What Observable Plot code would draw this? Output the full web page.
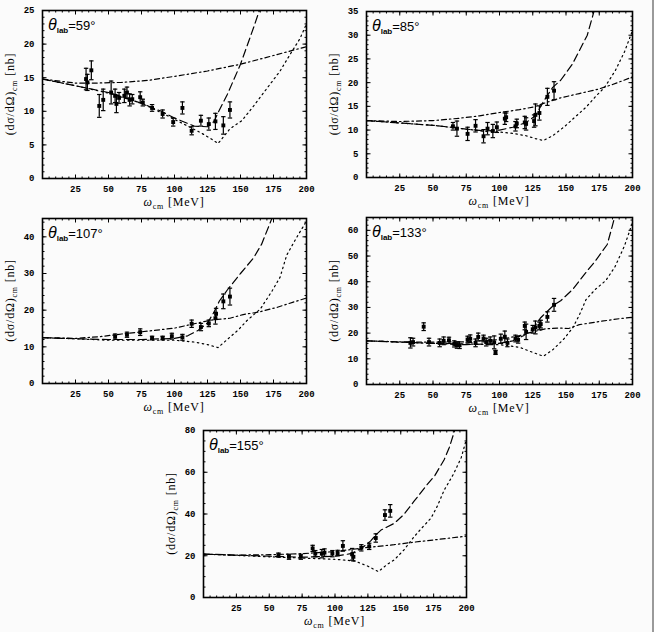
<!DOCTYPE html>
<html><head><meta charset="utf-8">
<script src="https://cdn.jsdelivr.net/npm/d3@7"></script>
<script src="https://cdn.jsdelivr.net/npm/@observablehq/plot@0.6"></script>
<style>
body{margin:0;background:#fbfbfb}
#root{position:relative;width:654px;height:632px;background:#fbfbfb;overflow:hidden}
#edge{position:absolute;right:0;top:0;width:2px;height:632px;background:#9a9a9a}
.panel{position:absolute}
</style></head><body><div id="root"><div id="edge"></div></div>
<script>
const xTicks = [25,50,75,100,125,150,175,200];
const angles = [59,85,107,133,155];
const yMax = [25,35,45,65,80];
const yStep = [5,5,10,10,20];
const yMinorStep = [1,1,2,2,5];

// measured points [omega, dsigma/dOmega, error]
const pts59 = [[33,14.8,1.6],[34,14.3,1.2],[37,16.1,1.4],[43,10.8,1.7],[46,11.7,1.6],[52,12.8,1.7],[55,12.3,1.0],[56,11.1,1.3],[58,12.0,0.8],[62,12.3,1.0],[64,12.8,0.8],[66,11.7,0.9],[68,11.8,0.7],[74,12.1,0.8],[76,11.3,0.5],[83,10.5,0.5],[91,9.6,0.6],[99,8.4,0.6],[106,10.5,0.9],[113,7.1,0.6],[120,8.6,0.8],[126,8.1,0.9],[131,8.5,1.2],[137,7.9,1.3],[142,10.2,1.2]];
const pts85 = [[65,10.8,0.8],[68,10.3,1.6],[76,9.2,1.4],[82,10.9,1.3],[88,8.7,1.4],[91,10.3,1.3],[95,9.8,1.4],[98,10.6,1.1],[104,12.4,1.2],[105,12.7,0.9],[112,10.8,1.0],[113,11.4,0.9],[119,11.6,1.3],[120,11.3,1.3],[126,11.9,1.3],[127,13.2,2.3],[130,13.6,1.5],[136,17.0,1.8],[141,18.3,1.9]];
const pts107 = [[55,12.8,0.7],[64,13.3,0.7],[74,14.0,0.9],[83,12.4,0.5],[91,12.4,0.5],[98,12.9,0.8],[106,12.6,0.8],[113,16.3,1.0],[120,15.4,1.0],[126,16.4,0.9],[131,17.8,1.6],[131.5,19.0,1.5],[137,22.4,2.0],[142,23.7,2.3]];
const pts133 = [[33,16.2,2.0],[35,16.5,1.5],[43,22.5,1.5],[47,16.5,1.5],[55,16.2,1.5],[58,17.0,1.5],[62,17.2,1.2],[66,15.8,1.2],[68,15.3,1.2],[70,15.3,1.3],[76,17.5,1.3],[78,17.8,1.5],[82,16.2,1.5],[84,18.5,1.5],[88,17.9,1.3],[90,16.5,1.5],[93,17.0,1.5],[96,16.4,2.5],[97,12.5,0.8],[101,17.8,1.8],[104,18.6,2.2],[106,16.2,1.5],[112,17.9,1.3],[114,17.4,1.3],[119,22.8,1.5],[120,20.5,3.0],[125,21.5,1.5],[127,22.2,2.5],[130,22.8,1.5],[131,23.5,1.5],[136,26.3,2.0],[141,31.0,2.5]];
const pts155 = [[57,20.3,1.0],[65,19.5,1.2],[74,19.5,1.2],[83,23.5,1.5],[85,21.0,1.5],[90,21.0,2.0],[92,21.5,1.8],[98,21.0,1.5],[102,21.3,1.3],[106,24.7,2.5],[113,20.7,2.8],[114,19.5,2.0],[120,23.8,1.5],[126,24.5,1.5],[131,28.5,2.0],[138,39.5,2.5],[142,41.5,3.0]];

// theory curves [omega, value]
const dash59 = [[0,14.8],[25,13.8],[50,12.8],[75,11.2],[90,10],[100,9.0],[110,8.2],[115,7.8],[125,7.7],[130,8.5],[133,9.8],[140,12.5],[150,17],[160,22.5],[166,26]];
const dashdot59 = [[0,14.8],[25,14.2],[40,14.2],[60,14.3],[80,14.6],[100,15.2],[125,16],[150,17],[175,18.3],[190,19.1],[200,19.6]];
const dot59 = [[0,14.8],[25,13.8],[50,12.7],[75,11.2],[90,9.8],[100,8.8],[110,7.8],[120,6.8],[127,6.0],[133,5.2],[142,7.4],[151,8.6],[160,10.8],[170,13.4],[180,16],[188,18.6],[195,20.8],[200,23]];

const dash85 = [[0,12],[25,11.5],[50,11],[60,10.7],[75,10.2],[90,9.8],[100,10],[110,10.6],[120,11.6],[127,13],[133,16],[140,19],[146,20.5],[155,24],[166,30],[171,35],[175,38]];
const dashdot85 = [[0,12],[25,11.8],[50,12],[70,12.5],[85,13],[100,13.7],[115,14.3],[126,14.9],[135,15.8],[146,16.8],[160,17.7],[174,18.6],[185,19.6],[200,21.2]];
const dot85 = [[0,12],[25,11.5],[50,11],[75,10.2],[90,9.7],[100,9.6],[110,9.3],[120,8.8],[127,8.2],[133,7.8],[140,8.8],[150,11],[157,12.8],[165,14.8],[172,17],[179,19],[187,22.5],[194,26.5],[200,31]];

const dash107 = [[0,12.5],[25,12.2],[50,12],[75,12],[100,12.3],[110,13],[118,14.5],[125,16.5],[130,19.5],[134,22.5],[140,25.5],[150,30],[160,34.3],[166,38],[173,44.3],[175,46]];
const dashdot107 = [[0,12.5],[25,12.3],[44,12.8],[60,13.5],[80,14.3],[100,15.1],[110,15.9],[120,16.7],[130,17.4],[142,17.8],[152,18.8],[164,19.5],[178,20.8],[190,22.2],[200,23.3]];
const dot107 = [[0,12.5],[25,12.2],[50,11.8],[75,11.8],[100,11.8],[115,11.3],[125,10.6],[133,9.8],[139,11.7],[148,14.5],[155,17.2],[165,20.3],[174,25.3],[180,29],[185,35],[192,39.5],[200,44.3]];

const dash133 = [[0,17],[25,16.5],[50,16],[75,15.5],[100,16],[110,17],[118,19],[125,21.5],[131,26],[137,29],[141,31],[146,32.6],[155,37],[164,43],[172,48],[181,54.5],[185,62],[187,66]];
const dashdot133 = [[0,17],[25,16.6],[50,16.5],[75,16.6],[100,17.5],[115,19],[125,20.5],[135,21.7],[145,22],[152,21.8],[160,23.3],[175,24.5],[190,25.6],[200,26.2]];
const dot133 = [[0,17],[50,16],[100,15.5],[115,14.5],[125,12.5],[133,11],[140,13.5],[148,17.5],[155,22],[160,27],[165,33],[172,37],[180,40.5],[187,46],[194,54],[200,63]];

const dash155 = [[0,20.8],[25,20.3],[50,19.8],[75,19.3],[100,19.8],[112,21],[120,23.5],[127,27],[131,30],[135,32.3],[145,35.5],[152,39.5],[160,46],[170,54],[176,58.5],[183,66],[187,72],[190,78],[192,82]];
const dashdot155 = [[0,20.8],[25,20.3],[50,20.5],[75,21],[100,22],[125,24],[145,25.3],[160,26.5],[170,27.2],[185,28.3],[200,29.4]];
const dot155 = [[0,20.8],[50,19.5],[100,18.3],[115,17.5],[125,15],[133,12.4],[140,16],[145,18],[152,22.5],[160,29],[167,34],[173,38],[178,44],[183,51.4],[190,59],[196,67],[200,76]];

const allPts = [pts59, pts85, pts107, pts133, pts155];
const allDash = [dash59, dash85, dash107, dash133, dash155];
const allDashDot = [dashdot59, dashdot85, dashdot107, dashdot133, dashdot155];
const allDot = [dot59, dot85, dot107, dot133, dot155];

// layout: [left, top, width, height, marginTop, marginRight, marginBottom, marginLeft]
const layout = [
  [0, 0, 327, 210, 10, 21, 32, 42],
  [327, 0, 327, 210, 11, 22, 33, 39],
  [0, 210, 327, 210, 8, 21, 37, 42],
  [327, 210, 327, 210, 7, 22, 36, 39],
  [160, 420, 327, 212, 10, 21, 35, 43]
];

const capSymbol = {draw(ctx, size){ const w = Math.sqrt(size / Math.PI); ctx.moveTo(-w, 0); ctx.lineTo(w, 0); }};
const tickSym = (dx, dy) => ({draw(ctx, size){ const l = Math.sqrt(size / Math.PI); ctx.moveTo(0, 0); ctx.lineTo(dx * l, dy * l); }});
const tickUp = tickSym(0, -1), tickDown = tickSym(0, 1), tickRight = tickSym(1, 0), tickLeft = tickSym(-1, 0);

const root = document.getElementById("root");
const tickFont = "'Liberation Mono', 'DejaVu Sans Mono', monospace";

angles.forEach((angle, i) => {
  const [left, top, width, height, mt, mr, mb, ml] = layout[i];
  const ymax = yMax[i];
  const yTicks = d3.range(0, ymax + 0.001, yStep[i]);
  const yMinor = d3.range(0, ymax + 0.001, yMinorStep[i]);
  const xMinor = d3.range(0, 200.001, 5);
  const pts = allPts[i];
  const lineOpts = {x: d => d[0], y: d => d[1], stroke: "black", strokeWidth: 1.2, clip: true};
  const tk = (data, ch, anchor, sym, r) => Plot.dot(data, {[ch]: d => d, frameAnchor: anchor, symbol: sym, r, stroke: "black", strokeWidth: 1});
  const plot = Plot.plot({
    width, height, marginTop: mt, marginRight: mr, marginBottom: mb, marginLeft: ml,
    x: {domain: [0, 200]},
    y: {domain: [0, ymax]},
    style: {background: "transparent", fontFamily: tickFont, fontSize: "9px", color: "black"},
    marks: [
      Plot.axisX(xTicks, {anchor: "bottom", tickSize: 0, tickPadding: 7, label: null, fontWeight: "bold"}),
      Plot.axisY(yTicks, {anchor: "left", tickSize: 0, tickPadding: 8, label: null, fontWeight: "bold"}),
      tk(xTicks, "x", "bottom", tickUp, 4),
      tk(xMinor, "x", "bottom", tickUp, 2),
      tk(xTicks, "x", "top", tickDown, 4),
      tk(xMinor, "x", "top", tickDown, 2),
      tk(yTicks, "y", "left", tickRight, 4),
      tk(yMinor, "y", "left", tickRight, 2),
      tk(yTicks, "y", "right", tickLeft, 4),
      tk(yMinor, "y", "right", tickLeft, 2),
      Plot.line(allDashDot[i], {...lineOpts, strokeDasharray: "5,3,1.5,3"}),
      Plot.line(allDash[i], {...lineOpts, strokeDasharray: "8,4"}),
      Plot.line(allDot[i], {...lineOpts, strokeDasharray: "1.5,3.5"}),
      Plot.ruleX(pts, {x: d => d[0], y1: d => d[1] - d[2], y2: d => d[1] + d[2], stroke: "black", strokeWidth: 1.2}),
      Plot.dot(pts, {x: d => d[0], y: d => d[1] + d[2], symbol: capSymbol, r: 2.2, stroke: "black", strokeWidth: 1.2}),
      Plot.dot(pts, {x: d => d[0], y: d => d[1] - d[2], symbol: capSymbol, r: 2.2, stroke: "black", strokeWidth: 1.2}),
      Plot.dot(pts, {x: d => d[0], y: d => d[1], symbol: "square", r: 2.2, fill: "black"}),
      Plot.frame({stroke: "black", strokeWidth: 1.6})
    ]
  });
  const div = document.createElement("div");
  div.className = "panel";
  div.style.left = left + "px";
  div.style.top = top + "px";
  div.appendChild(plot);
  root.appendChild(div);

  const svg = d3.select(plot);
  const fcx = ml + (width - ml - mr) / 2;
  const fcy = mt + (height - mt - mb) / 2;
  // panel title
  const t = svg.append("text").attr("x", ml + 6).attr("y", mt + 20).attr("text-anchor", "start")
    .attr("font-family", "'Liberation Sans', Arial, sans-serif").attr("font-size", 13).attr("fill", "black");
  t.append("tspan").attr("font-style", "italic").attr("font-size", 16).text("θ");
  t.append("tspan").attr("font-size", 8).attr("font-weight", "bold").attr("dy", 3).text("lab");
  t.append("tspan").attr("dy", -3).text("=" + angle + "°");
  // y label
  const yl = svg.append("text").attr("transform", `translate(${ml - 28},${fcy}) rotate(-90)`)
    .attr("text-anchor", "middle").attr("font-family", "'Liberation Serif', 'DejaVu Serif', serif")
    .attr("font-size", 12).attr("letter-spacing", 0.8).attr("fill", "black");
  yl.append("tspan").text("(dσ/dΩ)");
  yl.append("tspan").attr("font-size", 8).attr("dy", 3).text("cm");
  yl.append("tspan").attr("dy", -3).text(" [nb]");
  // x label
  const xl = svg.append("text").attr("x", fcx).attr("y", height - mb + 28)
    .attr("text-anchor", "middle").attr("font-family", "'Liberation Serif', 'DejaVu Serif', serif")
    .attr("font-size", 12).attr("letter-spacing", 0.8).attr("fill", "black");
  xl.append("tspan").attr("font-style", "italic").text("ω");
  xl.append("tspan").attr("font-size", 8).attr("dy", 3).text("cm");
  xl.append("tspan").attr("dy", -3).text(" [MeV]");
});
</script>
</body></html>
